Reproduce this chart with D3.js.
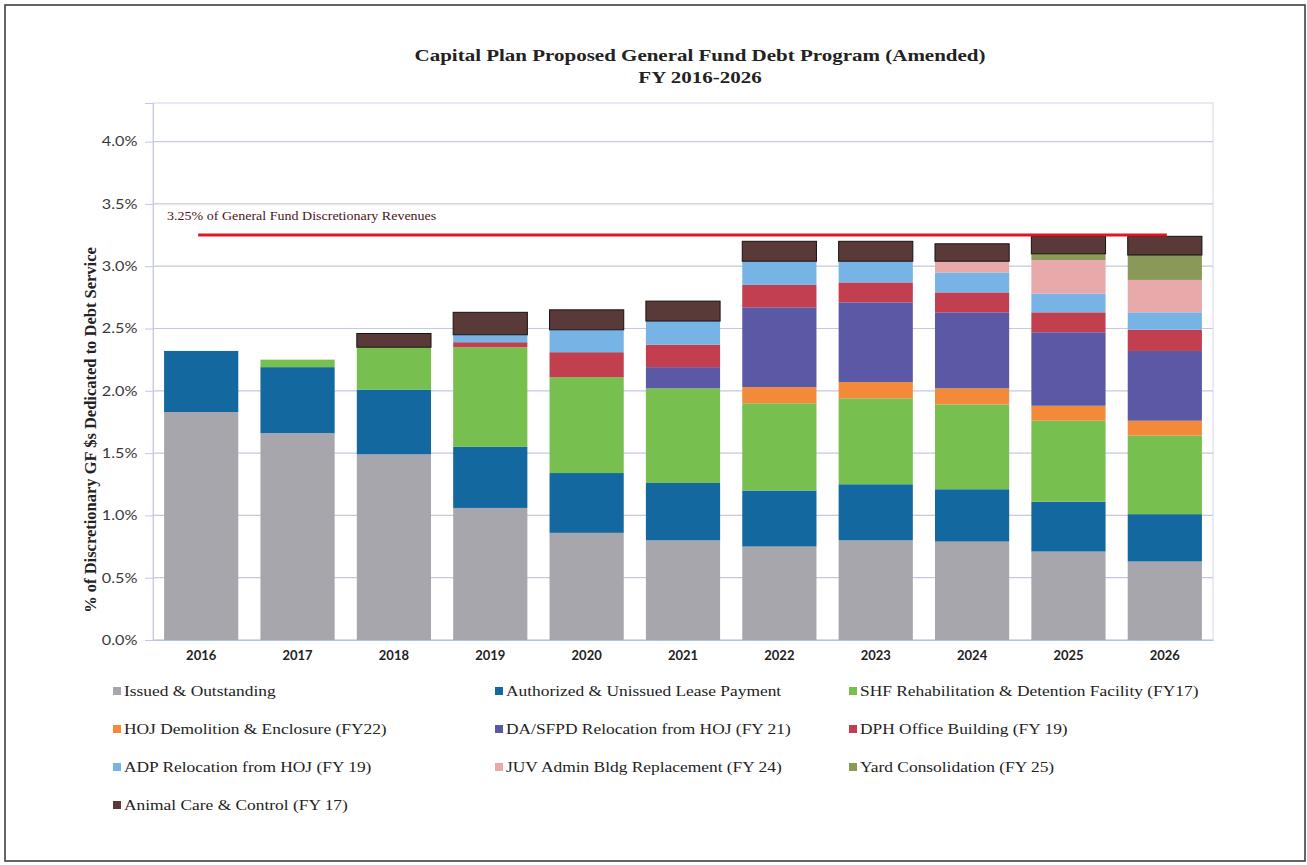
<!DOCTYPE html>
<html>
<head>
<meta charset="utf-8">
<script src="https://cdn.jsdelivr.net/npm/d3@7"></script>
<style>
  body { margin: 0; background: #fff; }
  .tick text { font-family: Lato, "Open Sans", sans-serif; }
</style>
</head>
<body>
<div id="chart"></div>
<script>
var svgWidth = 1307;
var svgHeight = 865;

var margin = { top: 103, right: 94, bottom: 225, left: 153 };
var width = svgWidth - margin.left - margin.right;
var height = svgHeight - margin.top - margin.bottom;

// the scanned original is a bit stretched sideways
var stretch = 1.2;
var serif = "'Liberation Serif', 'Times New Roman', serif";

// Data (percent of discretionary GF revenues)
var years = ["2016", "2017", "2018", "2019", "2020", "2021", "2022", "2023", "2024", "2025", "2026"];
var seriesNames = [
  "Issued & Outstanding",
  "Authorized & Unissued Lease Payment",
  "SHF Rehabilitation & Detention Facility (FY17)",
  "HOJ Demolition & Enclosure (FY22)",
  "DA/SFPD Relocation from HOJ (FY 21)",
  "DPH Office Building (FY 19)",
  "ADP Relocation from HOJ (FY 19)",
  "JUV Admin Bldg Replacement (FY 24)",
  "Yard Consolidation (FY 25)",
  "Animal Care & Control (FY 17)"
];
var seriesColors = ["#a7a6ad", "#12689f", "#77bf4f", "#f28a3a", "#5b58a6", "#c13f4f", "#78b3e6", "#e8a9aa", "#8a9858", "#5a3939"];

var issued     = [1.83, 1.66, 1.49, 1.06, 0.86, 0.80, 0.75, 0.80, 0.79, 0.71, 0.63];
var authorized = [0.49, 0.53, 0.52, 0.49, 0.48, 0.46, 0.45, 0.45, 0.42, 0.40, 0.38];
var shf        = [0.00, 0.06, 0.34, 0.80, 0.77, 0.76, 0.70, 0.69, 0.68, 0.65, 0.63];
var hojDemo    = [0, 0, 0, 0, 0, 0, 0.13, 0.13, 0.13, 0.12, 0.12];
var daSfpd     = [0, 0, 0, 0, 0, 0.17, 0.64, 0.64, 0.61, 0.59, 0.56];
var dph        = [0, 0, 0, 0.04, 0.20, 0.18, 0.18, 0.16, 0.16, 0.16, 0.17];
var adp        = [0, 0, 0, 0.06, 0.18, 0.19, 0.19, 0.17, 0.16, 0.15, 0.14];
var juv        = [0, 0, 0, 0, 0, 0, 0, 0, 0.09, 0.27, 0.26];
var yard       = [0, 0, 0, 0, 0, 0, 0, 0, 0, 0.05, 0.20];
var animal     = [0, 0, 0.11, 0.18, 0.16, 0.16, 0.16, 0.16, 0.14, 0.14, 0.15];

var yTicks = [0, 0.5, 1.0, 1.5, 2.0, 2.5, 3.0, 3.5, 4.0];
var threshold = 3.25;
var thresholdLabel = "3.25% of General Fund Discretionary Revenues";

var seriesValues = [issued, authorized, shf, hojDemo, daSfpd, dph, adp, juv, yard, animal];

// build table for d3.stack
var table = years.map(function(y, i) {
  var row = { year: y };
  seriesNames.forEach(function(name, s) { row[name] = seriesValues[s][i]; });
  return row;
});

var svg = d3.select("#chart")
  .append("svg")
  .attr("width", svgWidth)
  .attr("height", svgHeight);

// outer frame
svg.append("rect")
  .attr("x", 5).attr("y", 5)
  .attr("width", svgWidth - 7).attr("height", svgHeight - 9)
  .attr("fill", "none")
  .attr("stroke", "#333")
  .attr("stroke-width", 1.5);

var chartGroup = svg.append("g")
  .attr("transform", `translate(${margin.left}, ${margin.top})`);

var xScale = d3.scaleBand()
  .domain(years)
  .range([0, width])
  .paddingInner(0.23)
  .paddingOuter(0.115);

var yScale = d3.scaleLinear()
  .domain([0, 4.31])
  .range([height, 0]);

// plot area border
chartGroup.append("rect")
  .attr("width", width).attr("height", height)
  .attr("fill", "none")
  .attr("stroke", "#d4d7ea")
  .attr("stroke-width", 1);

// gridlines
chartGroup.append("g")
  .selectAll("line")
  .data(yTicks)
  .enter()
  .append("line")
  .attr("x1", 0).attr("x2", width)
  .attr("y1", d => yScale(d)).attr("y2", d => yScale(d))
  .attr("stroke", "#c5c8de")
  .attr("stroke-width", 1.2);

// Y axis
var leftAxis = d3.axisLeft(yScale)
  .tickValues(yTicks)
  .tickFormat(d => d.toFixed(1) + "%")
  .tickSize(8)
  .tickPadding(5);

var yAxisG = chartGroup.append("g").call(leftAxis);
yAxisG.select(".domain").attr("stroke", "#c5c8de");
yAxisG.selectAll(".tick line").attr("stroke", "#c5c8de");
yAxisG.selectAll(".tick text")
  .attr("font-size", "13.5px")
  .attr("fill", "#3a3a3a")
  .attr("transform", `scale(${stretch},1)`);

// X axis
var bottomAxis = d3.axisBottom(xScale).tickSize(0).tickPadding(11);
var xAxisG = chartGroup.append("g")
  .attr("transform", `translate(0, ${height})`)
  .call(bottomAxis);
xAxisG.select(".domain").attr("stroke", "#a9c8e0");
xAxisG.selectAll(".tick text")
  .attr("font-size", "13px")
  .attr("font-weight", "bold")
  .attr("fill", "#222");

// Stacked bars
var stack = d3.stack().keys(seriesNames);
var stacked = stack(table);

var layers = chartGroup.selectAll(".layer")
  .data(stacked)
  .enter()
  .append("g")
  .attr("class", "layer")
  .attr("fill", (d, i) => seriesColors[i]);

layers.selectAll("rect")
  .data(d => d.filter(p => p[1] - p[0] > 0).map(p => ({ p: p, key: d.key })))
  .enter()
  .append("rect")
  .attr("x", d => xScale(d.p.data.year))
  .attr("width", xScale.bandwidth())
  .attr("y", d => yScale(d.p[1]))
  .attr("height", d => yScale(d.p[0]) - yScale(d.p[1]))
  .attr("stroke", d => d.key === seriesNames[9] ? "#1a1212" : "none")
  .attr("stroke-width", d => d.key === seriesNames[9] ? 1 : 0);

// threshold line
var firstX = xScale(years[0]) + xScale.bandwidth() / 2;
var lastX = xScale(years[years.length - 1]) + xScale.bandwidth() / 2;
chartGroup.append("line")
  .attr("x1", firstX - 3).attr("x2", lastX + 2)
  .attr("y1", yScale(threshold)).attr("y2", yScale(threshold))
  .attr("stroke", "#e3141f")
  .attr("stroke-width", 3);

chartGroup.append("text")
  .attr("transform", `translate(14, ${yScale(threshold) - 15}) scale(1.22,1)`)
  .attr("font-family", serif)
  .attr("font-size", "11.5px")
  .attr("fill", "#4a1420")
  .text(thresholdLabel);

// Title
var title = svg.append("text")
  .attr("transform", `translate(700, 61) scale(${stretch},1)`)
  .attr("text-anchor", "middle")
  .attr("font-family", serif)
  .attr("font-weight", "bold")
  .attr("font-size", "17.5px")
  .attr("fill", "#222");
title.append("tspan").attr("x", 0).text("Capital Plan Proposed General Fund Debt Program (Amended)");
title.append("tspan").attr("x", 0).attr("dy", 22).text("FY 2016-2026");

// Y axis label
svg.append("text")
  .attr("transform", "translate(96, 430) rotate(-90)")
  .attr("text-anchor", "middle")
  .attr("font-family", serif)
  .attr("font-weight", "bold")
  .attr("font-size", "16.5px")
  .attr("fill", "#222")
  .text("% of Discretionary GF $s Dedicated to Debt Service");

// Legend
var legendCols = [113, 495, 849];
var legendRows = [692, 730, 768, 806];
var legend = svg.append("g")
  .selectAll("g")
  .data(seriesNames)
  .enter()
  .append("g")
  .attr("transform", (d, i) => `translate(${legendCols[i % 3]}, ${legendRows[Math.floor(i / 3)]})`);

legend.append("rect")
  .attr("x", 0).attr("y", -5)
  .attr("width", 8).attr("height", 8)
  .attr("fill", (d, i) => seriesColors[i]);

legend.append("text")
  .attr("transform", `translate(11, 4) scale(${stretch},1)`)
  .attr("font-family", serif)
  .attr("font-size", "14.5px")
  .attr("fill", "#222")
  .text(d => d);
</script>
</body>
</html>
